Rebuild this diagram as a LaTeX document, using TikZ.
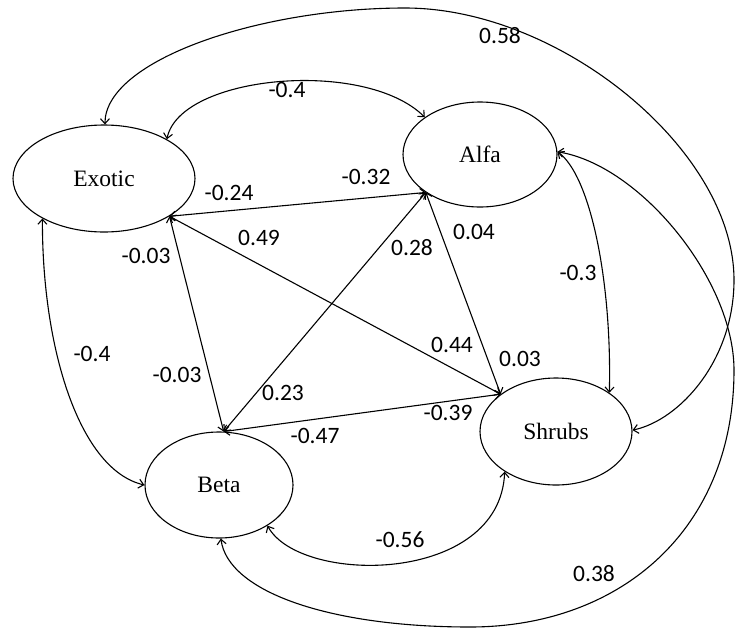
\documentclass[tikz,border=0pt]{standalone}
\usepackage{fontspec}
\setmainfont{Liberation Serif}
\newfontfamily\labfont{Carlito}
\usetikzlibrary{shapes.geometric,arrows.meta}
\begin{document}
\begin{tikzpicture}[x=1pt,y=-1pt,
  >={Straight Barb[length=5pt,width=9pt]},
  var/.style={ellipse,draw,line width=1.1pt,inner sep=0pt,font=\fontsize{23.5}{26}\selectfont},
  lab/.style={font=\labfont\fontsize{23.5}{26}\selectfont,inner sep=0pt},
  link/.style={<->,line width=1.1pt}]
\useasboundingbox (0,0) rectangle (737,630);
% variables
\node[var,minimum width=182pt,minimum height=107pt] (exotic) at (104,178.5) {Exotic};
\node[var,minimum width=154pt,minimum height=105pt] (alfa) at (480,154.5) {Alfa};
\node[var,minimum width=152pt,minimum height=107pt] (shrubs) at (556,431.5) {Shrubs};
\node[var,minimum width=148pt,minimum height=106pt] (beta) at (219,485) {Beta};
% straight paths
\draw[link] (exotic.-30) -- (alfa.215);
\draw[link] (exotic.-30) -- (shrubs.146);
\draw[link] (exotic.-30) -- (beta.85);
\draw[link] (alfa.215) -- (beta.85);
\draw[link] (alfa.215) -- (shrubs.146);
\draw[link] (beta.85) -- (shrubs.146);
% curved paths
\draw[link] (exotic.89) .. controls (105,60) and (260,8) .. (405,8)
  .. controls (560,8) and (734,150) .. (734,280)
  .. controls (734,360) and (680,420) .. (shrubs.1);
\draw[link] (alfa.2) .. controls (640,165) and (734,280) .. (734,370)
  .. controls (734,530) and (620,627) .. (470,627)
  .. controls (330,627) and (228,592) .. (beta.-88);
\draw[link] (exotic.32) .. controls (180,75) and (365,58) .. (alfa.146);
\draw[link] (exotic.213) .. controls (42,350) and (80,470) .. (beta.180);
\draw[link] (alfa.2) .. controls (590,175) and (612,280) .. (shrubs.36);
\draw[link] (beta.-40) .. controls (300,585) and (500,585) .. (shrubs.218);
% labels
\node[lab] (l058) at (500,36) {0.58};
\node[lab] (l04t) at (287,90) {-0.4};
\node[lab] (l024) at (229,193) {-0.24};
\node[lab] (l032) at (366,177) {-0.32};
\node[lab] (l049) at (259,238) {0.49};
\node[lab] (l003a) at (146,256) {-0.03};
\node[lab] (l028) at (412,248) {0.28};
\node[lab] (l004) at (474,232) {0.04};
\node[lab] (l03) at (578,273) {-0.3};
\node[lab] (l04l) at (92,354) {-0.4};
\node[lab] (l003b) at (177,375) {-0.03};
\node[lab] (l044) at (452,345) {0.44};
\node[lab] (l003c) at (520,359) {0.03};
\node[lab] (l023) at (283,393) {0.23};
\node[lab] (l047) at (315,436) {-0.47};
\node[lab] (l039) at (448,413) {-0.39};
\node[lab] (l056) at (400,540) {-0.56};
\node[lab] (l038) at (594,574) {0.38};
\end{tikzpicture}
\end{document}
